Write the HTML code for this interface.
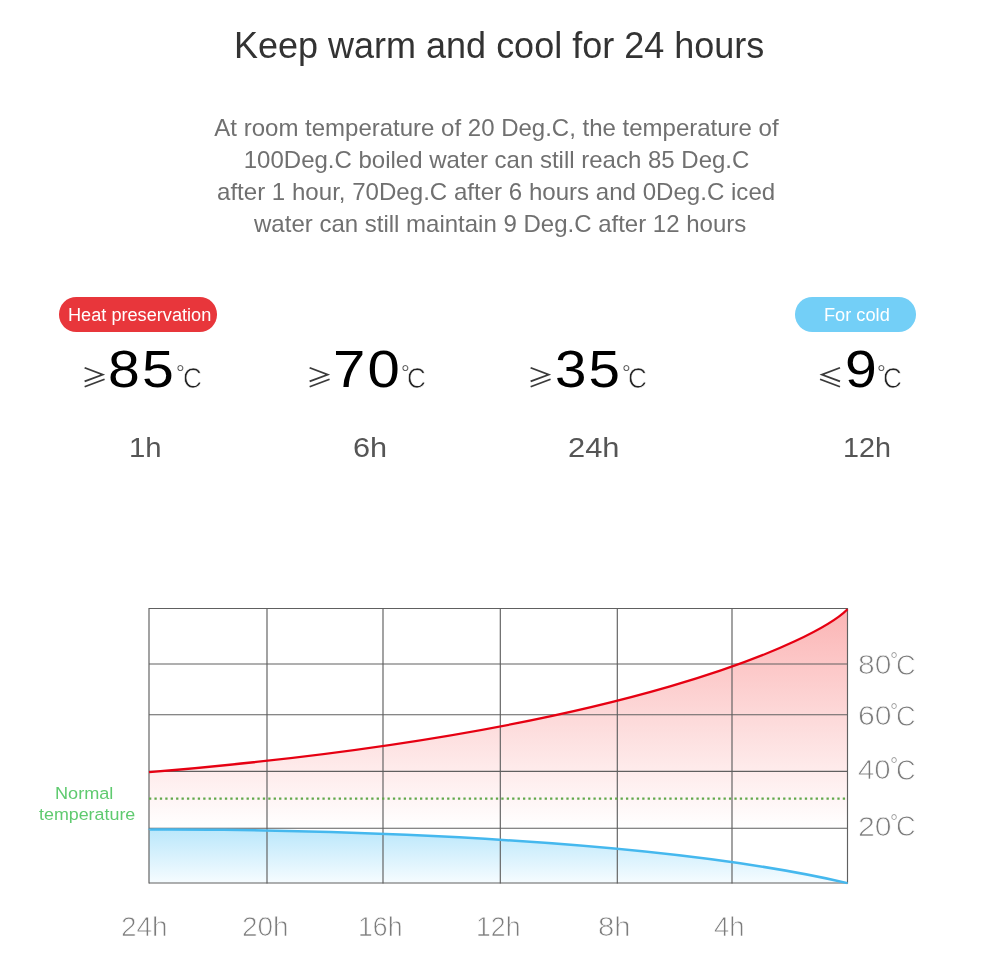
<!DOCTYPE html>
<html lang="en">
<head>
<meta charset="utf-8">
<title>Keep warm and cool for 24 hours</title>
<style>
  html, body { margin: 0; padding: 0; background: #fff; }
  body { width: 1000px; height: 970px; position: relative; overflow: hidden;
         font-family: "Liberation Sans", sans-serif; }
  h1, p { margin: 0; font-weight: normal; }
  .t { position: absolute; white-space: nowrap; line-height: 1; transform-origin: 0 0; }
  .thin { -webkit-text-stroke: 0.75px #fff; }
  .thin4 { -webkit-text-stroke: 0.4px #fff; }
  .thin9 { -webkit-text-stroke: 0.9px #fff; }
  .thin7 { -webkit-text-stroke: 0.7px #fff; }
  .thin3 { -webkit-text-stroke: 0.3px #fff; }
  .pill { position: absolute; height: 34.6px; border-radius: 17.3px; }
  .pill.red { left: 59px; top: 297.1px; width: 158px; background: #e8363b; }
  .pill.blue { left: 795.2px; top: 297.1px; width: 120.8px; background: #73cff7; }
  svg.chart { position: absolute; left: 0; top: 580px; }
</style>
</head>
<body>

<header class="intro">
  <h1 class="t" style="left:234.05px;top:28.3px;font-size:36.4px;color:#333;transform:scaleX(0.9892);">Keep warm and cool for 24 hours</h1>
  <p class="lead">
    <span class="t" style="left:214.35px;top:115.9px;font-size:24px;color:#707070;">At room temperature of 20 Deg.C, the temperature of</span>
    <span class="t" style="left:243.77px;top:148px;font-size:24px;color:#707070;">100Deg.C boiled water can still reach 85 Deg.C</span>
    <span class="t" style="left:216.98px;top:180px;font-size:24px;color:#707070;transform:scaleX(1.0033);">after 1 hour, 70Deg.C after 6 hours and 0Deg.C iced</span>
    <span class="t" style="left:254.04px;top:211.8px;font-size:24px;color:#707070;">water can still maintain 9 Deg.C after 12 hours</span>
  </p>
</header>

<section class="stats">
  <div class="stat">
    <div class="pill red"><span class="t" style="left:9.11px;top:9.1px;font-size:18px;color:#fff;transform:scaleX(1.0084);">Heat preservation</span></div>
    <span class="t sign" style="left:80.8px;top:364.2px;font-size:25px;color:#3a3a3a;font-family:'Noto Sans CJK SC','DejaVu Sans',sans-serif;transform:scaleX(1.0660);">≥</span>
    <span class="t num" style="left:108.22px;top:343px;font-size:52px;color:#000;letter-spacing:2px;transform:scaleX(1.0993);">85</span>
    <span class="t deg thin3" style="left:175.6px;top:362.46px;font-size:21px;color:#222;transform:scaleX(1.0364);">°</span>
    <span class="t unit thin7" style="left:182.58px;top:363.5px;font-size:29px;color:#222;transform:scaleX(0.8984);">C</span>
    <span class="t hrs" style="left:129.26px;top:432.9px;font-size:28.5px;color:#555;transform:scaleX(1.0297);">1h</span>
  </div>
  <div class="stat">
    <span class="t sign" style="left:306.2px;top:364.2px;font-size:25px;color:#3a3a3a;font-family:'Noto Sans CJK SC','DejaVu Sans',sans-serif;transform:scaleX(1.0660);">≥</span>
    <span class="t num" style="left:332.72px;top:343px;font-size:52px;color:#000;letter-spacing:2px;transform:scaleX(1.1171);">70</span>
    <span class="t deg thin3" style="left:400.6px;top:362.46px;font-size:21px;color:#222;transform:scaleX(1.0364);">°</span>
    <span class="t unit thin7" style="left:406.88px;top:363.5px;font-size:29px;color:#222;transform:scaleX(0.8984);">C</span>
    <span class="t hrs" style="left:353.44px;top:432.9px;font-size:28.5px;color:#555;transform:scaleX(1.0774);">6h</span>
  </div>
  <div class="stat">
    <span class="t sign" style="left:527.2px;top:364.2px;font-size:25px;color:#3a3a3a;font-family:'Noto Sans CJK SC','DejaVu Sans',sans-serif;transform:scaleX(1.0660);">≥</span>
    <span class="t num" style="left:554.95px;top:343px;font-size:52px;color:#000;letter-spacing:2px;transform:scaleX(1.0866);">35</span>
    <span class="t deg thin3" style="left:621.6px;top:362.46px;font-size:21px;color:#222;transform:scaleX(1.0364);">°</span>
    <span class="t unit thin7" style="left:628.28px;top:363.5px;font-size:29px;color:#222;transform:scaleX(0.8984);">C</span>
    <span class="t hrs" style="left:568.25px;top:433px;font-size:28.5px;color:#555;transform:scaleX(1.0821);">24h</span>
  </div>
  <div class="stat">
    <div class="pill blue"><span class="t" style="left:28.61px;top:9px;font-size:18px;color:#fff;transform:scaleX(1.0115);">For cold</span></div>
    <span class="t sign" style="left:817.26px;top:364.2px;font-size:25px;color:#3a3a3a;font-family:'Noto Sans CJK SC','DejaVu Sans',sans-serif;transform:scaleX(1.0660);">≤</span>
    <span class="t num" style="left:844.52px;top:343px;font-size:52px;color:#000;transform:scaleX(1.0991);">9</span>
    <span class="t deg thin3" style="left:877.4px;top:362.46px;font-size:21px;color:#222;transform:scaleX(1.0364);">°</span>
    <span class="t unit thin7" style="left:883.18px;top:363.5px;font-size:29px;color:#222;transform:scaleX(0.8984);">C</span>
    <span class="t hrs" style="left:843.01px;top:433px;font-size:28.5px;color:#555;transform:scaleX(1.0085);">12h</span>
  </div>
</section>

<section class="chart-wrap">
  <svg class="chart" width="1000" height="320" viewBox="0 580 1000 320">
    <defs>
      <linearGradient id="gr" x1="0" y1="608" x2="0" y2="828" gradientUnits="userSpaceOnUse">
        <stop offset="0" stop-color="#fbb4b4"/>
        <stop offset="1" stop-color="#ffffff"/>
      </linearGradient>
      <linearGradient id="gb" x1="0" y1="829" x2="0" y2="883" gradientUnits="userSpaceOnUse">
        <stop offset="0" stop-color="#bae7fb"/>
        <stop offset="1" stop-color="#f6fcff"/>
      </linearGradient>
    </defs>
    <path fill="url(#gr)" d="M149,772.2 C636,731.5 818.8,638.4 847.5,609.2 L847.5,828 L149,828 Z"/>
    <path fill="url(#gb)" d="M149,829.5 C149,829.4 602.6,826 847.5,883.1 L149,883 Z"/>
    <g stroke="#606060" stroke-width="1.15" fill="none">
      <path d="M149,608.5H847.5 M149,664H847.5 M149,714.7H847.5 M149,771.3H847.5 M149,828.2H847.5 M149,883H847.5"/>
      <path d="M149,608V883.5 M267,608V883.5 M383,608V883.5 M500.3,608V883.5 M617.3,608V883.5 M732,608V883.5 M847.5,608V883.5"/>
    </g>
    <path d="M149,798.7H847.5" stroke="#62a84c" stroke-width="2.3" stroke-dasharray="2.3 3.12" fill="none"/>
    <path fill="none" stroke="#e60012" stroke-width="2.3" d="M149,772.2 C636,731.5 818.8,638.4 847.5,609.2"/>
    <path fill="none" stroke="#45b8ee" stroke-width="2.5" d="M149,829.5 C149,829.4 602.6,826 847.5,883.1"/>
  </svg>
  <div class="normal-label">
    <span class="t" style="left:55.21px;top:785.4px;font-size:17.1px;color:#5fca6f;transform:scaleX(1.0601);">Normal</span>
    <span class="t" style="left:39.33px;top:806.4px;font-size:17.1px;color:#5fca6f;transform:scaleX(1.0445);">temperature</span>
  </div>
  <div class="y-axis">
    <div class="tick"><span class="t thin" style="left:857.8px;top:651px;font-size:27.5px;color:#7c7c7c;transform:scaleX(1.0911);">80</span><span class="t thin4" style="left:889.79px;top:649.06px;font-size:21px;color:#7c7c7c;transform:scaleX(0.9684);">°</span><span class="t thin9" style="left:895.71px;top:649.6px;font-size:29.5px;color:#7c7c7c;transform:scaleX(0.9260);">C</span></div>
    <div class="tick"><span class="t thin" style="left:857.57px;top:702.3px;font-size:27.5px;color:#7c7c7c;transform:scaleX(1.0990);">60</span><span class="t thin4" style="left:889.79px;top:700.36px;font-size:21px;color:#7c7c7c;transform:scaleX(0.9684);">°</span><span class="t thin9" style="left:895.71px;top:700.9px;font-size:29.5px;color:#7c7c7c;transform:scaleX(0.9260);">C</span></div>
    <div class="tick"><span class="t thin" style="left:858.42px;top:756.2px;font-size:27.5px;color:#7c7c7c;transform:scaleX(1.0698);">40</span><span class="t thin4" style="left:889.79px;top:754.26px;font-size:21px;color:#7c7c7c;transform:scaleX(0.9684);">°</span><span class="t thin9" style="left:895.71px;top:754.8px;font-size:29.5px;color:#7c7c7c;transform:scaleX(0.9260);">C</span></div>
    <div class="tick"><span class="t thin" style="left:857.58px;top:812.5px;font-size:27.5px;color:#7c7c7c;transform:scaleX(1.0984);">20</span><span class="t thin4" style="left:889.79px;top:810.56px;font-size:21px;color:#7c7c7c;transform:scaleX(0.9684);">°</span><span class="t thin9" style="left:895.71px;top:811.1px;font-size:29.5px;color:#7c7c7c;transform:scaleX(0.9260);">C</span></div>
  </div>
  <div class="x-axis">
    <span class="t thin" style="left:121.29px;top:913.1px;font-size:27.5px;color:#7c7c7c;transform:scaleX(1.0161);">24h</span>
    <span class="t thin" style="left:241.89px;top:913.1px;font-size:27.5px;color:#7c7c7c;transform:scaleX(1.0161);">20h</span>
    <span class="t thin" style="left:357.87px;top:913.1px;font-size:27.5px;color:#7c7c7c;transform:scaleX(0.9690);">16h</span>
    <span class="t thin" style="left:476.27px;top:913.1px;font-size:27.5px;color:#7c7c7c;transform:scaleX(0.9690);">12h</span>
    <span class="t thin" style="left:598.03px;top:913.1px;font-size:27.5px;color:#7c7c7c;transform:scaleX(1.0649);">8h</span>
    <span class="t thin" style="left:714.07px;top:913.1px;font-size:27.5px;color:#7c7c7c;">4h</span>
  </div>
</section>

</body>
</html>
